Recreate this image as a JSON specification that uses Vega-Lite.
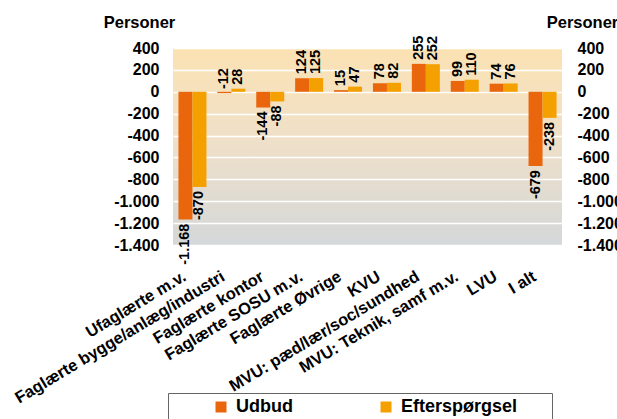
{
  "$schema": "https://vega.github.io/schema/vega-lite/v6.json",
  "width": 389,
  "height": 197,
  "autosize": {"type": "none"},
  "padding": {"left": 173, "top": 48, "right": 55, "bottom": 174},
  "background": "white",
  "config": {
    "font": "Liberation Sans",
    "locale": {"number": {"decimal": ",", "thousands": ".", "grouping": [3], "currency": ["", ""], "minus": "-"}},
    "view": {
      "stroke": null,
      "fill": {
        "gradient": "linear", "x1": 0, "y1": 0, "x2": 0, "y2": 1,
        "stops": [
          {"offset": 0, "color": "#FBE2B3"},
          {"offset": 0.45, "color": "#F0E0C8"},
          {"offset": 1, "color": "#D4D8D9"}
        ]
      }
    }
  },
  "data": {
    "values": [
      {"cat": "Ufaglærte m.v.", "series": "Udbud", "value": -1168},
      {"cat": "Ufaglærte m.v.", "series": "Efterspørgsel", "value": -870},
      {"cat": "Faglærte bygge/anlæg/industri", "series": "Udbud", "value": -12},
      {"cat": "Faglærte bygge/anlæg/industri", "series": "Efterspørgsel", "value": 28},
      {"cat": "Faglærte kontor", "series": "Udbud", "value": -144},
      {"cat": "Faglærte kontor", "series": "Efterspørgsel", "value": -88},
      {"cat": "Faglærte SOSU m.v.", "series": "Udbud", "value": 124},
      {"cat": "Faglærte SOSU m.v.", "series": "Efterspørgsel", "value": 125},
      {"cat": "Faglærte Øvrige", "series": "Udbud", "value": 15},
      {"cat": "Faglærte Øvrige", "series": "Efterspørgsel", "value": 47},
      {"cat": "KVU", "series": "Udbud", "value": 78},
      {"cat": "KVU", "series": "Efterspørgsel", "value": 82},
      {"cat": "MVU: pæd/lær/soc/sundhed", "series": "Udbud", "value": 255},
      {"cat": "MVU: pæd/lær/soc/sundhed", "series": "Efterspørgsel", "value": 252},
      {"cat": "MVU: Teknik, samf m.v.", "series": "Udbud", "value": 99},
      {"cat": "MVU: Teknik, samf m.v.", "series": "Efterspørgsel", "value": 110},
      {"cat": "LVU", "series": "Udbud", "value": 74},
      {"cat": "LVU", "series": "Efterspørgsel", "value": 76},
      {"cat": "I alt", "series": "Udbud", "value": -679},
      {"cat": "I alt", "series": "Efterspørgsel", "value": -238}
    ]
  },
  "encoding": {
    "x": {
      "field": "cat", "type": "nominal", "sort": null,
      "scale": {"paddingInner": 0.28, "paddingOuter": 0.14},
      "axis": {
        "title": null, "labelAngle": -31, "labelAlign": "right", "labelBaseline": "top",
        "labelFontSize": 16.5, "labelFontWeight": "bold", "labelColor": "black",
        "labelPadding": 23, "labelOffset": -12, "labelLimit": 400, "labelOverlap": false,
        "ticks": false, "domain": false, "grid": false
      }
    },
    "xOffset": {"field": "series", "type": "nominal", "sort": ["Udbud", "Efterspørgsel"], "scale": {"paddingInner": 0, "paddingOuter": 0}}
  },
  "resolve": {"axis": {"y": "independent"}},
  "layer": [
    {
      "mark": {"type": "bar"},
      "encoding": {
        "y": {
          "field": "value", "type": "quantitative",
          "scale": {"domain": [-1400, 400], "nice": false, "zero": false},
          "axis": {
            "orient": "left", "title": "Personer", "titleAngle": 0, "titleAlign": "center",
            "titleX": -34, "titleY": -26, "titleBaseline": "middle",
            "titleFontSize": 16.5, "titleFontWeight": "bold", "titleColor": "black",
            "values": [-1400, -1200, -1000, -800, -600, -400, -200, 0, 200, 400],
            "format": ",d", "labelFontSize": 16, "labelFontWeight": "bold", "labelColor": "black",
            "labelPadding": 14, "ticks": false, "domain": false,
            "grid": true, "gridColor": "white", "gridWidth": 1.5
          }
        },
        "color": {
          "field": "series", "type": "nominal",
          "sort": ["Udbud", "Efterspørgsel"],
          "scale": {"domain": ["Udbud", "Efterspørgsel"], "range": ["#E9660D", "#F4A000"]},
          "legend": {
            "orient": "none", "legendX": -5, "legendY": 345,
            "direction": "horizontal", "columns": 2,
            "title": " ", "titleOrient": "right", "titlePadding": 30,
            "symbolType": "square", "symbolSize": 121, "symbolStrokeWidth": 0,
            "symbolOffset": 39, "labelOffset": 6, "columnPadding": 45,
            "labelFontSize": 18, "labelFontWeight": "bold", "labelColor": "black",
            "padding": 5, "strokeColor": "#666666", "fillColor": "white"
          }
        }
      }
    },
    {
      "transform": [{"filter": "datum.value >= -20"}],
      "mark": {"type": "text", "angle": 270, "align": "left", "baseline": "middle", "dx": 4, "fontSize": 14.5, "fontWeight": "bold", "color": "black"},
      "encoding": {
        "y": {
          "field": "value", "type": "quantitative",
          "axis": {
            "orient": "right", "title": "Personer", "titleAngle": 0, "titleAlign": "center",
            "titleX": 20, "titleY": -26, "titleBaseline": "middle",
            "titleFontSize": 16.5, "titleFontWeight": "bold", "titleColor": "black",
            "values": [-1400, -1200, -1000, -800, -600, -400, -200, 0, 200, 400],
            "format": ",d", "labelFontSize": 16, "labelFontWeight": "bold", "labelColor": "black",
            "labelPadding": 15, "ticks": false, "domain": false, "grid": false
          }
        },
        "text": {"field": "value", "type": "quantitative", "format": ",d"}
      }
    },
    {
      "transform": [{"filter": "datum.value < -20"}],
      "mark": {"type": "text", "angle": 270, "align": "right", "baseline": "middle", "dx": -4, "fontSize": 14.5, "fontWeight": "bold", "color": "black"},
      "encoding": {
        "y": {"field": "value", "type": "quantitative", "axis": null},
        "text": {"field": "value", "type": "quantitative", "format": ",d"}
      }
    }
  ]
}
